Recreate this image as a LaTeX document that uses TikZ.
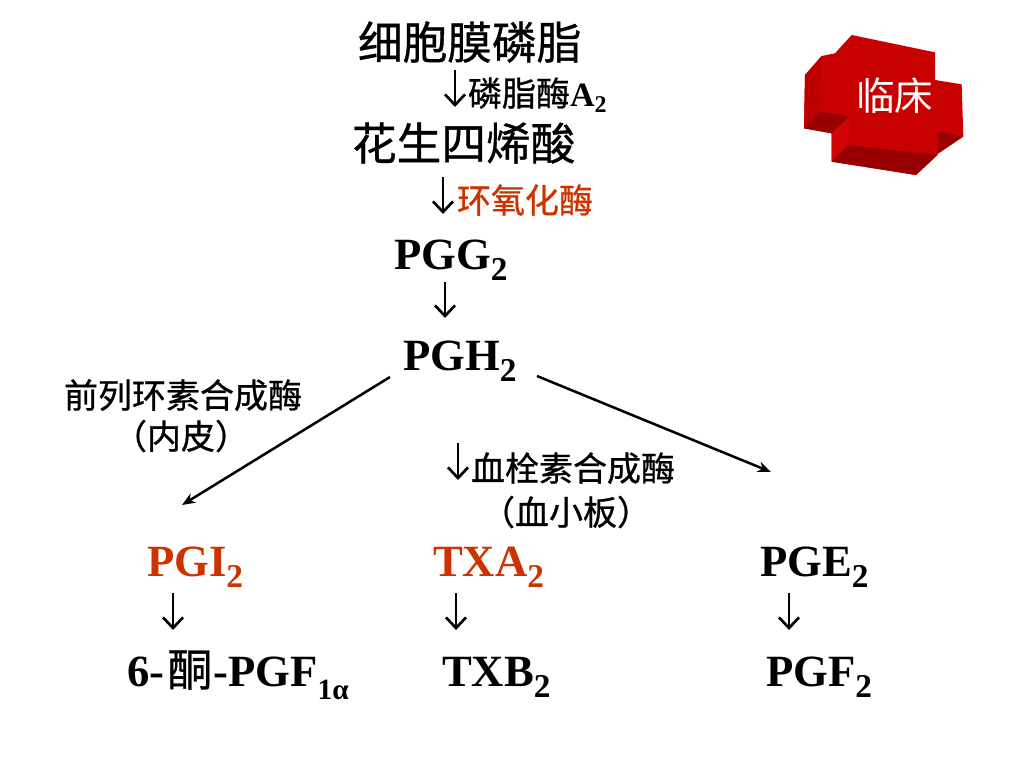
\documentclass[tikz,border=0pt]{standalone}
\usepackage{fontspec}
\setmainfont{Liberation Serif}
\newfontfamily\cjk[UprightFeatures={FakeBold=0.8}]{Noto Sans CJK SC}
\newfontfamily\cjkplain{Noto Sans CJK SC}
\usetikzlibrary{arrows.meta}
\definecolor{hot}{HTML}{CC3300}
\definecolor{redA}{HTML}{C80000}
\definecolor{redB}{HTML}{BC0000}
\definecolor{redC}{HTML}{980000}
\definecolor{redD}{HTML}{D20404}
\newcommand{\bigsz}{\fontsize{33.5}{36}\selectfont}
\newcommand{\midsz}{\fontsize{25.5}{28}\selectfont}
\newcommand{\lat}[1]{{\rmfamily\bfseries #1}}
\newcommand{\sbs}[1]{\raisebox{-0.26em}{\fontsize{25}{28}\rmfamily\bfseries\selectfont #1}}
\newcommand{\sbm}[1]{\raisebox{-0.2em}{\fontsize{18}{20}\rmfamily\bfseries\selectfont #1}}
\newcommand{\sbk}[1]{\raisebox{-0.3em}{\fontsize{22}{24}\rmfamily\bfseries\selectfont #1}}
\tikzset{
  x=0.75pt,y=-0.75pt,
  lab/.style={anchor=base west,inner sep=0pt,outer sep=0pt},
  bigtxt/.style={lab,font=\bigsz},
  midtxt/.style={lab,font=\midsz},
  down/.style={line width=2pt,-{Straight Barb[length=8pt,width=15pt,line width=2pt]}},
  diag/.style={line width=1.9pt,-{Stealth[length=10pt,width=8pt]}},
}
\begin{document}
\begin{tikzpicture}
\useasboundingbox (0,0) rectangle (1024,768);
% red block
\begin{scope}[shift={(790,20)},x=0.25pt,y=-0.25pt]
\fill[redA] (185,45) -- (435,97) -- (435,180) -- (515,193) -- (520,350) -- (445,400) -- (442,405) -- (378,465) -- (125,425) -- (125,340) -- (42,325) -- (45,165) -- (95,108) -- (135,100) -- cycle;
\fill[redB] (95,108) -- (45,165) -- (42,325) -- (90,275) -- cycle;
\fill[redC] (42,325) -- (90,275) -- (178,290) -- (125,340) -- cycle;
\fill[redC] (445,335) -- (518,350) -- (445,400) -- cycle;
\fill[redD] (178,290) -- (125,340) -- (125,425) -- (175,375) -- cycle;
\fill[redC] (125,425) -- (175,375) -- (442,405) -- (378,465) -- cycle;
\end{scope}
\node[lab,text=white,font=\fontsize{29}{32}\selectfont\cjkplain] (clin) at (856,110) {临床};
% labels
\node[bigtxt] (pl) at (358,59) {\cjk 细胞膜磷脂};
\node[midtxt] (e1) at (468,106) {\cjk 磷脂酶\lat{A}\sbm{2}};
\node[bigtxt] (aa) at (352,160) {\cjk 花生四烯酸};
\node[midtxt,text=hot] (e2) at (457,213) {\cjk 环氧化酶};
\node[bigtxt] (pgg) at (394,269) {\lat{PGG}\sbs{2}};
\node[bigtxt] (pgh) at (403,370) {\lat{PGH}\sbs{2}};
\node[midtxt] (e3) at (64,408) {\cjk 前列环素合成酶};
\node[midtxt] (e3b) at (113,449) {\cjk （内皮）};
\node[midtxt] (e4) at (471,481) {\cjk 血栓素合成酶};
\node[midtxt] (e5) at (481,525) {\cjk （血小板）};
\node[bigtxt,text=hot] (pgi) at (147,576) {\lat{PGI}\sbs{2}};
\node[bigtxt,text=hot] (txa) at (433,576) {\lat{TXA}\sbs{2}};
\node[bigtxt] (pge) at (760,576) {\lat{PGE}\sbs{2}};
\node[bigtxt] (keto) at (127,686) {\lat{6-}\kern2.5pt{\cjk 酮}\kern1pt\lat{-PGF}\sbk{1α}};
\node[bigtxt] (txb) at (442,686) {\lat{TXB}\sbs{2}};
\node[bigtxt] (pgf) at (766,686) {\lat{PGF}\sbs{2}};
% connector ends
\coordinate (a1s) at (455,70); \coordinate (a1e) at (455,107);
\coordinate (a2s) at (443,177); \coordinate (a2e) at (443,214);
\coordinate (a3s) at (445,282); \coordinate (a3e) at (445,318);
\coordinate (a4s) at (458,443); \coordinate (a4e) at (458,480);
\coordinate (a5s) at (173,593); \coordinate (a5e) at (173,630);
\coordinate (a6s) at (456,593); \coordinate (a6e) at (456,630);
\coordinate (a7s) at (789,593); \coordinate (a7e) at (789,630);
\coordinate (d1s) at (390,377); \coordinate (d1e) at (182,505);
\coordinate (d2s) at (537,376); \coordinate (d2e) at (771,472);
\foreach \n in {1,...,7} \draw[down] (a\n s) -- (a\n e);
\draw[diag] (d1s) -- (d1e);
\draw[diag] (d2s) -- (d2e);
\end{tikzpicture}
\end{document}
